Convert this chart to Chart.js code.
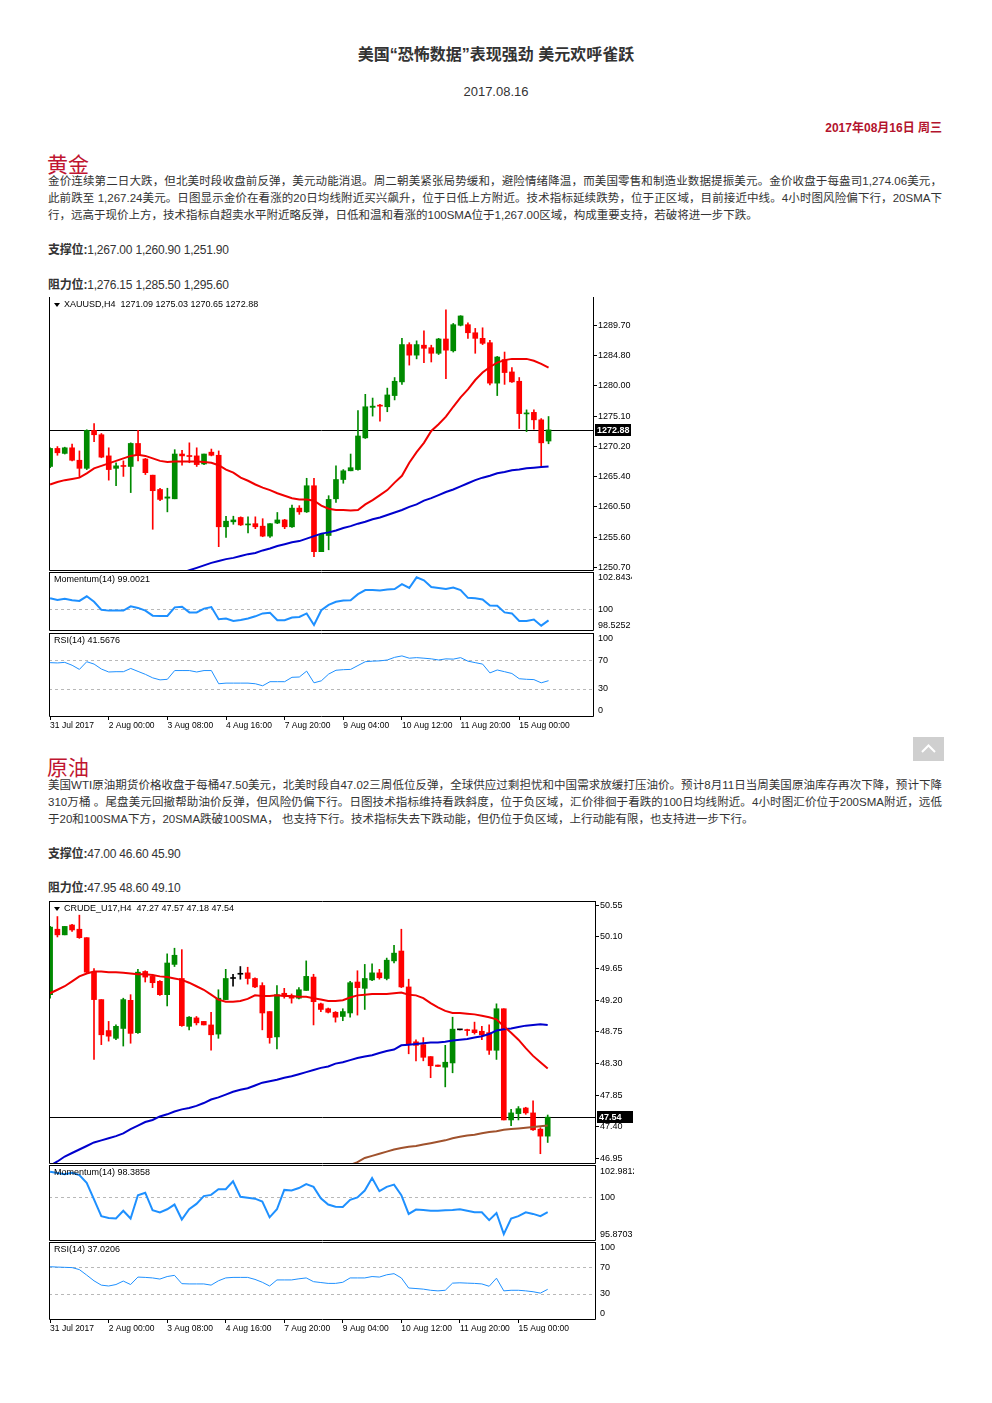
<!DOCTYPE html>
<html lang="zh-CN">
<head>
<meta charset="utf-8">
<title>美国“恐怖数据”表现强劲 美元欢呼雀跃</title>
<script src="https://cdn.jsdelivr.net/npm/chart.js@4.4.1/dist/chart.umd.min.js"></script>
<style>
  html, body { margin: 0; padding: 0; background: #fff; }
  body { width: 992px; height: 1403px; position: relative; overflow: hidden;
         font-family: "Liberation Sans", "Noto Sans CJK SC", sans-serif; color: #222; }
  .abs { position: absolute; }
  #title { left: 0; width: 992px; top: 45px; text-align: center; font-size: 16px; font-weight: bold; line-height: 20px; color: #333; }
  #date { left: 0; width: 992px; top: 83px; text-align: center; font-size: 13px; line-height: 18px; color: #333; }
  #today { right: 50px; top: 120px; font-size: 12px; font-weight: bold; line-height: 16px; color: #b3132d; }
  .head { left: 47px; font-size: 21px; line-height: 24px; color: #c01530; }
  .para { left: 48px; width: 894px; font-size: 11.5px; line-height: 17px; color: #333; }
  .para div { text-align: justify; text-align-last: justify; }
  .para div.last { text-align-last: left; }
  .level { left: 48px; font-size: 12px; line-height: 18px; letter-spacing: -0.2px; color: #333; }
  canvas { position: absolute; left: 49px; }
  #toTop { left: 913px; top: 737px; width: 31px; height: 24px; background: #cfcfcf; }
</style>
</head>
<body>
<div id="title" class="abs">美国“恐怖数据”表现强劲 美元欢呼雀跃</div>
<div id="date" class="abs">2017.08.16</div>
<div id="today" class="abs">2017年08月16日 周三</div>

<div class="abs head" style="top:153px">黄金</div>
<div class="abs para" style="top:173px">
  <div>金价连续第二日大跌，但北美时段收盘前反弹，美元动能消退。周二朝美紧张局势缓和，避险情绪降温，而美国零售和制造业数据提振美元。金价收盘于每盎司1,274.06美元，</div>
  <div>此前跌至 1,267.24美元。日图显示金价在看涨的20日均线附近买兴飙升，位于日低上方附近。技术指标延续跌势，位于正区域，目前接近中线。4小时图风险偏下行，20SMA下</div>
  <div class="last">行，远高于现价上方，技术指标自超卖水平附近略反弹，日低和温和看涨的100SMA位于1,267.00区域，构成重要支持，若破将进一步下跌。</div>
</div>
<div class="abs level" style="top:241px"><b>支撑位:</b>1,267.00 1,260.90 1,251.90</div>
<div class="abs level" style="top:276px"><b>阻力位:</b>1,276.15 1,285.50 1,295.60</div>

<canvas id="goldMain" width="583" height="274" style="top:297px"></canvas>
<canvas id="goldMom" width="583" height="59" style="top:572px"></canvas>
<canvas id="goldRsi" width="583" height="102" style="top:633px"></canvas>

<div id="toTop" class="abs"><svg width="31" height="24"><polyline points="9,15 15.5,8.5 22,15" fill="none" stroke="#fff" stroke-width="2"/></svg></div>

<div class="abs head" style="top:756px">原油</div>
<div class="abs para" style="top:777px">
  <div>美国WTI原油期货价格收盘于每桶47.50美元，北美时段自47.02三周低位反弹，全球供应过剩担忧和中国需求放缓打压油价。预计8月11日当周美国原油库存再次下降，预计下降</div>
  <div>310万桶 。尾盘美元回撤帮助油价反弹，但风险仍偏下行。日图技术指标维持看跌斜度，位于负区域，汇价徘徊于看跌的100日均线附近。4小时图汇价位于200SMA附近，远低</div>
  <div class="last">于20和100SMA下方，20SMA跌破100SMA， 也支持下行。技术指标失去下跌动能，但仍位于负区域，上行动能有限，也支持进一步下行。</div>
</div>
<div class="abs level" style="top:845px"><b>支撑位:</b>47.00 46.60 45.90</div>
<div class="abs level" style="top:879px"><b>阻力位:</b>47.95 48.60 49.10</div>

<canvas id="crudeMain" width="585" height="263" style="top:901px"></canvas>
<canvas id="crudeMom" width="585" height="76" style="top:1165px"></canvas>
<canvas id="crudeRsi" width="585" height="96" style="top:1242px"></canvas>

<script>
// time axis, one tick every 8 H4 bars
const timeTickBars = [0, 8, 16, 24, 32, 40, 48, 56, 64];
const timeTickLabels = ['31 Jul 2017', '2 Aug 00:00', '3 Aug 08:00', '4 Aug 16:00', '7 Aug 20:00',
  '9 Aug 04:00', '10 Aug 12:00', '11 Aug 20:00', '15 Aug 00:00'];

// XAUUSD H4
const goldOpen = [
  1267.0, 1269.9, 1269.1, 1270.0, 1268.0, 1266.7, 1272.8, 1272.1, 1268.7, 1266.7,
  1267.1, 1267.0, 1270.7, 1268.2, 1265.6, 1263.3, 1261.9, 1261.8, 1269.0, 1268.7,
  1268.7, 1267.4, 1269.3, 1268.8, 1257.3, 1258.1, 1258.8, 1257.6, 1257.8, 1257.4,
  1255.8, 1257.9, 1258.4, 1257.3, 1260.3, 1259.7, 1263.9, 1253.3, 1255.9, 1261.8,
  1264.9, 1266.3, 1266.5, 1271.6, 1276.5, 1276.85, 1276.6, 1278.4, 1280.6, 1286.6,
  1284.9, 1286.5, 1286.1, 1285.2, 1287.5, 1285.6, 1289.7, 1289.8, 1288.5, 1287.6,
  1286.9, 1280.4, 1284.2, 1282.2, 1280.7, 1275.45, 1275.7, 1274.5, 1271.09];
const goldHigh = [
  1270.0, 1270.2, 1270.1, 1270.6, 1269.5, 1272.9, 1273.9, 1272.3, 1270.0, 1267.6,
  1267.9, 1270.8, 1272.8, 1268.3, 1265.6, 1263.5, 1263.5, 1269.7, 1269.6, 1270.8,
  1270.0, 1269.0, 1269.8, 1269.5, 1259.0, 1259.0, 1258.9, 1258.9, 1258.9, 1258.6,
  1257.8, 1259.6, 1258.5, 1260.8, 1260.7, 1265.1, 1265.1, 1256.1, 1262.3, 1267.1,
  1266.5, 1269.0, 1276.0, 1278.6, 1278.0, 1277.0, 1279.6, 1281.3, 1287.6, 1286.9,
  1287.2, 1288.8, 1286.5, 1287.6, 1292.2, 1290.0, 1291.25, 1290.1, 1289.2, 1289.3,
  1287.3, 1284.7, 1285.4, 1282.9, 1281.3, 1276.1, 1276.1, 1274.7, 1275.03];
const goldLow = [
  1266.8, 1268.8, 1269.0, 1267.9, 1265.2, 1266.5, 1271.0, 1268.4, 1264.8, 1263.9,
  1265.4, 1262.8, 1267.9, 1265.7, 1256.9, 1261.5, 1259.7, 1261.8, 1267.2, 1267.6,
  1267.0, 1267.3, 1268.7, 1254.1, 1255.6, 1257.7, 1257.5, 1256.3, 1257.0, 1255.7,
  1255.6, 1257.8, 1257.0, 1257.2, 1259.3, 1259.6, 1252.5, 1253.3, 1253.6, 1261.2,
  1264.3, 1266.3, 1266.4, 1271.5, 1275.1, 1274.3, 1275.8, 1277.7, 1280.2, 1283.3,
  1284.3, 1283.7, 1283.8, 1285.0, 1281.1, 1285.4, 1289.6, 1287.6, 1285.2, 1286.6,
  1280.1, 1278.4, 1280.2, 1280.5, 1273.1, 1272.6, 1273.0, 1267.1, 1270.65];
const goldClose = [
  1269.9, 1269.2, 1270.0, 1268.0, 1266.7, 1272.8, 1272.1, 1268.5, 1266.5, 1267.1,
  1267.0, 1270.7, 1268.8, 1266.0, 1263.1, 1261.7, 1262.1, 1269.0, 1268.7, 1268.6,
  1267.3, 1269.0, 1268.8, 1257.3, 1258.2, 1258.4, 1257.6, 1257.7, 1257.3, 1255.8,
  1257.8, 1258.4, 1257.3, 1260.3, 1259.7, 1263.9, 1253.3, 1256.1, 1261.7, 1264.9,
  1266.3, 1266.8, 1271.9, 1276.6, 1276.7, 1276.7, 1278.5, 1280.7, 1286.6, 1284.9,
  1286.6, 1286.0, 1285.2, 1287.5, 1285.7, 1289.8, 1291.2, 1288.5, 1287.6, 1286.8,
  1280.4, 1284.6, 1282.1, 1280.6, 1275.5, 1275.55, 1274.5, 1270.8, 1272.88];
const goldSma20 = [
  1264.1, 1264.5, 1264.8, 1265.0, 1265.2, 1265.9, 1266.7, 1267.1, 1267.5, 1267.9,
  1268.3, 1268.7, 1268.9, 1268.7, 1268.3, 1267.9, 1267.7, 1267.8, 1267.8, 1267.8,
  1267.8, 1267.7, 1267.6, 1267.2, 1266.5, 1266.0, 1265.2, 1264.7, 1264.1, 1263.6,
  1263.2, 1262.7, 1262.3, 1261.9, 1261.7, 1261.7, 1261.5, 1260.7, 1260.2, 1260.0,
  1260.0, 1259.9, 1260.0, 1260.9, 1261.6, 1262.4, 1263.2, 1264.4, 1265.5, 1267.6,
  1269.3, 1270.8, 1272.7, 1273.8, 1275.0, 1276.6, 1278.1, 1279.4, 1280.9, 1282.1,
  1283.0, 1283.7, 1284.1, 1284.3, 1284.3, 1284.3, 1284.0, 1283.5, 1282.9];
const goldSma100 = [
  null, null, null, null, null, null, null, null, null, null,
  null, null, null, null, null, null, null, 1249.5, 1249.9, 1250.3,
  1250.7, 1251.1, 1251.5, 1251.8, 1252.1, 1252.3, 1252.6, 1252.9, 1253.1, 1253.5,
  1253.8, 1254.2, 1254.5, 1254.8, 1255.0, 1255.4, 1255.8, 1256.2, 1256.4, 1256.7,
  1257.1, 1257.4, 1257.8, 1258.1, 1258.5, 1258.8, 1259.2, 1259.6, 1260.0, 1260.5,
  1260.9, 1261.5, 1261.9, 1262.4, 1262.9, 1263.3, 1263.8, 1264.3, 1264.8, 1265.2,
  1265.5, 1265.9, 1266.1, 1266.4, 1266.5, 1266.7, 1266.8, 1266.9, 1267.0];
const goldMomentum = [
  100.98, 100.82, 100.93, 100.79, 100.74, 101.15, 100.66, 99.94, 99.87, 99.87,
  99.87, 100.25, 100.11, 99.87, 99.42, 99.39, 99.39, 100.16, 100.22, 99.71,
  99.71, 100.05, 100.19, 99.10, 99.17, 98.94, 99.04, 99.17, 99.36, 99.62,
  99.68, 99.01, 99.01, 99.26, 99.30, 99.62, 98.59, 99.90, 100.38, 100.66,
  100.77, 100.79, 101.34, 101.70, 101.70, 101.67, 101.75, 101.80, 102.24, 101.89,
  102.8434, 102.57, 101.97, 101.89, 101.80, 101.94, 101.70, 101.01, 100.98, 100.87,
  100.33, 100.30, 99.71, 99.62, 98.94, 98.94, 99.07, 98.5252, 99.0021];
const goldRsi = [
  66.7, 66.3, 67.1, 63.1, 57.3, 68.0, 64.7, 57.8, 53.7, 54.1,
  54.1, 58.6, 54.5, 50.4, 45.5, 42.7, 43.5, 55.7, 55.7, 55.7,
  53.7, 55.7, 55.7, 37.3, 38.2, 38.2, 38.2, 38.2, 37.3, 34.5,
  40.2, 40.2, 40.2, 46.3, 46.7, 54.9, 38.6, 41.4, 50.8, 56.1,
  56.9, 57.3, 62.7, 68.0, 68.8, 69.2, 70.4, 74.1, 76.1, 72.9,
  73.7, 72.9, 72.0, 70.4, 72.0, 71.6, 73.7, 68.8, 66.7, 64.7,
  52.4, 56.5, 54.1, 51.6, 44.3, 43.5, 43.1, 38.6, 41.5676];
const goldPriceTicks = [1289.70, 1284.80, 1280.00, 1275.10, 1270.20, 1265.40, 1260.50, 1255.60, 1250.70];

// CRUDE_U17 H4
const crudeOpen = [
  49.28, 50.21, 50.13, 50.27, 50.21, 50.09, 49.60, 49.21, 48.77, 48.66,
  48.80, 49.20, 48.74, 49.61, 49.54, 49.47, 49.28, 49.71, 49.51, 48.83,
  48.95, 48.90, 48.85, 48.72, 49.21, 49.51, 49.57, 49.59, 49.51, 49.41,
  49.04, 48.68, 49.30, 49.26, 49.23, 49.34, 49.53, 49.15, 49.08, 49.03,
  48.97, 49.02, 49.46, 49.37, 49.49, 49.59, 49.51, 49.76, 49.90, 49.39,
  48.61, 48.57, 48.40, 48.28, 48.25, 48.31, 48.78, 48.78, 48.78, 48.76,
  48.74, 48.49, 49.08, 47.50, 47.59, 47.67, 47.60, 47.37, 47.27];
const crudeHigh = [
  50.25, 50.39, 50.25, 50.28, 50.41, 50.09, 49.65, 49.21, 48.90, 48.85,
  49.23, 49.28, 49.64, 49.62, 49.57, 49.48, 49.86, 49.94, 49.92, 48.97,
  48.97, 48.90, 49.03, 49.35, 49.64, 49.57, 49.68, 49.67, 49.52, 49.45,
  49.04, 49.41, 49.37, 49.29, 49.38, 49.76, 49.57, 49.16, 49.09, 49.04,
  49.08, 49.47, 49.62, 49.71, 49.72, 49.64, 49.80, 49.98, 50.21, 49.50,
  48.64, 48.67, 48.40, 48.28, 48.56, 48.96, 48.78, 48.79, 48.89, 48.83,
  48.85, 49.15, 49.08, 47.65, 47.69, 47.68, 47.77, 47.39, 47.57];
const crudeLow = [
  49.23, 50.10, 50.13, 50.18, 50.08, 49.59, 48.36, 48.57, 48.62, 48.64,
  48.55, 48.59, 48.73, 49.46, 49.38, 49.27, 49.12, 49.68, 48.83, 48.78,
  48.85, 48.85, 48.49, 48.66, 49.21, 49.40, 49.50, 49.43, 49.38, 48.78,
  48.59, 48.51, 49.23, 49.16, 49.22, 49.34, 48.85, 49.04, 49.02, 48.89,
  48.91, 48.96, 48.99, 49.07, 49.48, 49.50, 49.49, 49.73, 49.38, 48.44,
  48.34, 48.34, 48.10, 48.26, 47.97, 48.17, 48.78, 48.70, 48.72, 48.64,
  48.43, 48.36, 47.50, 47.42, 47.50, 47.58, 47.35, 47.02, 47.18];
const crudeClose = [
  50.24, 50.13, 50.25, 50.20, 50.09, 49.60, 49.21, 48.71, 48.69, 48.83,
  49.21, 48.73, 49.60, 49.53, 49.45, 49.28, 49.73, 49.84, 48.84, 48.96,
  48.88, 48.85, 48.71, 49.23, 49.51, 49.51, 49.57, 49.51, 49.39, 49.02,
  48.67, 49.28, 49.26, 49.23, 49.35, 49.54, 49.18, 49.07, 49.03, 48.96,
  49.04, 49.45, 49.38, 49.51, 49.59, 49.52, 49.77, 49.87, 49.39, 48.58,
  48.56, 48.39, 48.27, 48.26, 48.32, 48.79, 48.78, 48.77, 48.74, 48.71,
  48.49, 49.08, 47.50, 47.60, 47.66, 47.60, 47.36, 47.27, 47.54];
const crudeSma20 = [
  49.30, 49.35, 49.40, 49.47, 49.54, 49.58, 49.61, 49.61, 49.60, 49.60,
  49.59, 49.58, 49.57, 49.57, 49.56, 49.54, 49.53, 49.51, 49.49, 49.45,
  49.40, 49.35, 49.28, 49.21, 49.18, 49.18, 49.19, 49.22, 49.27, 49.26,
  49.26, 49.27, 49.26, 49.26, 49.25, 49.25, 49.23, 49.21, 49.19, 49.19,
  49.20, 49.24, 49.27, 49.28, 49.29, 49.29, 49.29, 49.30, 49.31, 49.28,
  49.27, 49.23, 49.16, 49.10, 49.05, 49.02, 49.02, 49.01, 49.00, 48.98,
  48.96, 48.93, 48.83, 48.74, 48.64, 48.52, 48.41, 48.32, 48.23];
const crudeSma100 = [
  46.85, 46.91, 46.98, 47.03, 47.08, 47.13, 47.18, 47.21, 47.24, 47.27,
  47.31, 47.37, 47.42, 47.47, 47.50, 47.55, 47.58, 47.62, 47.65, 47.67,
  47.70, 47.74, 47.79, 47.82, 47.86, 47.90, 47.93, 47.95, 47.99, 48.03,
  48.05, 48.07, 48.10, 48.12, 48.15, 48.18, 48.21, 48.24, 48.26, 48.30,
  48.32, 48.35, 48.38, 48.40, 48.42, 48.45, 48.48, 48.50, 48.56, 48.57,
  48.58, 48.59, 48.60, 48.60, 48.61, 48.63, 48.64, 48.65, 48.67, 48.69,
  48.72, 48.77, 48.79, 48.80, 48.82, 48.84, 48.85, 48.86, 48.85];
const crudeSma200 = [
  null, null, null, null, null, null, null, null, null, null,
  null, null, null, null, null, null, null, null, null, null,
  null, null, null, null, null, null, null, null, null, null,
  null, null, null, null, null, null, null, null, null, null,
  46.80, 46.86, 46.90, 46.96, 46.99, 47.02, 47.05, 47.08, 47.10, 47.12,
  47.13, 47.15, 47.17, 47.19, 47.21, 47.24, 47.26, 47.28, 47.29, 47.31,
  47.33, 47.34, 47.36, 47.37, 47.38, 47.39, 47.40, 47.41, 47.42];
const crudeMomentum = [
  102.9812, 102.84, 102.70, 102.87, 102.62, 101.74, 99.85, 97.93, 97.72, 97.65,
  98.54, 97.65, 100.31, 100.60, 98.61, 98.36, 98.71, 99.25, 97.54, 98.71,
  99.32, 100.21, 100.35, 100.99, 100.99, 101.91, 100.14, 100.03, 99.92, 99.60,
  97.79, 98.71, 100.92, 100.85, 101.13, 101.59, 101.27, 99.96, 99.25, 99.00,
  98.96, 99.78, 100.06, 100.85, 102.27, 100.78, 101.27, 101.52, 100.31, 98.18,
  98.68, 98.64, 98.54, 98.54, 98.61, 98.64, 98.71, 98.54, 98.36, 98.36,
  97.47, 98.29, 95.8703, 97.65, 97.93, 98.36, 98.18, 97.93, 98.3858];
const crudeRsi = [
  70.9, 70.4, 70.0, 69.6, 66.6, 58.4, 49.8, 43.3, 42.0, 44.2,
  49.4, 44.2, 55.4, 54.9, 54.1, 52.4, 56.2, 58.0, 45.5, 45.1,
  45.1, 45.1, 43.3, 49.8, 54.1, 54.9, 54.9, 54.9, 51.9, 47.6,
  42.0, 51.1, 51.1, 51.1, 52.8, 54.1, 48.5, 47.2, 45.9, 45.9,
  47.6, 54.1, 54.1, 54.1, 56.2, 55.4, 58.8, 60.5, 54.1, 39.0,
  38.2, 37.3, 35.6, 34.7, 35.6, 46.3, 46.8, 46.3, 45.9, 45.1,
  41.6, 53.7, 34.7, 35.6, 35.6, 34.7, 33.4, 31.3, 37.0206];
const crudePriceTicks = [50.55, 50.10, 49.65, 49.20, 48.75, 48.30, 47.85, 47.40, 46.95];

const rsiTicks = [100, 70, 30, 0];

const UP = '#008a00', DOWN = '#ff0000', FLAT = '#000000';
const INDICATOR = '#1e90ff';
const FONT = '"Liberation Sans", sans-serif';

const xy = values => values.map((v, i) => ({ x: i, y: v }));

// frame, caption and bid marker in MT4 style
const panelDecor = {
  id: 'panelDecor',
  beforeDatasetsDraw(chart, args, opts) {
    if (opts.bid == null) return;
    const { ctx, chartArea: a } = chart;
    const y = Math.round(chart.scales.y.getPixelForValue(opts.bid)) + 0.5;
    ctx.save();
    ctx.strokeStyle = '#000';
    ctx.lineWidth = 1;
    ctx.beginPath();
    ctx.moveTo(a.left, y);
    ctx.lineTo(a.right, y);
    ctx.stroke();
    ctx.restore();
  },
  afterDraw(chart, args, opts) {
    const { ctx, chartArea: a } = chart;
    const l = a.left + 0.5, r = a.right - 0.5, t = a.top + 0.5, b = a.bottom - 0.5;
    ctx.save();
    ctx.strokeStyle = '#000';
    ctx.lineWidth = 1;
    ctx.beginPath();
    if (opts.top !== false) {
      ctx.moveTo(l, t);
      ctx.lineTo(r, t);
    }
    ctx.moveTo(r, a.top);
    ctx.lineTo(r, b);
    ctx.lineTo(l, b);
    ctx.lineTo(l, a.top);
    ctx.stroke();

    ctx.fillStyle = '#000';
    ctx.font = '9px ' + FONT;
    ctx.textBaseline = 'middle';
    let x = a.left + 5;
    const ty = a.top + 8;
    if (opts.marker) {
      ctx.beginPath();
      ctx.moveTo(x, ty - 2);
      ctx.lineTo(x + 6, ty - 2);
      ctx.lineTo(x + 3, ty + 2);
      ctx.closePath();
      ctx.fill();
      x += 10;
    }
    ctx.fillText(opts.caption, x, ty);

    if (opts.bid != null) {
      const y = Math.round(chart.scales.y.getPixelForValue(opts.bid));
      ctx.fillRect(a.right + 1, y - 6, 36, 12);
      ctx.fillStyle = '#fff';
      ctx.font = 'bold 9px ' + FONT;
      ctx.fillText(opts.bid.toFixed(2), a.right + 3, y + 0.5);
    }
    ctx.restore();
  }
};

function timeAxis(xMax, showLabels) {
  return {
    type: 'linear',
    min: -0.15,
    max: xMax,
    offset: false,
    display: showLabels,
    afterBuildTicks: s => { s.ticks = timeTickBars.map(v => ({ value: v })); },
    afterFit: s => { s.height = showLabels ? 18 : 0; },
    border: { display: false },
    grid: { drawOnChartArea: false, drawTicks: true, tickLength: 3, tickColor: '#000' },
    ticks: {
      autoSkip: false, maxRotation: 0, align: 'start', padding: 1, color: '#000',
      font: { family: FONT, size: 8.5 },
      callback: v => timeTickLabels[timeTickBars.indexOf(v)]
    }
  };
}

function valueAxis(min, max, tickValues, format, levels) {
  return {
    position: 'right',
    min, max,
    afterBuildTicks: s => { s.ticks = tickValues.map(v => ({ value: v })); },
    afterFit: s => { s.width = 38; s.paddingTop = 0; s.paddingBottom = 0; },
    border: { display: false, dash: [3, 3] },
    grid: levels ? {
      drawTicks: false,
      lineWidth: 1,
      color: c => (c.tick && levels.includes(c.tick.value)) ? '#b8b8b8' : 'rgba(0,0,0,0)'
    } : { drawOnChartArea: false, drawTicks: true, tickLength: 3, tickColor: '#000' },
    ticks: { autoSkip: false, padding: levels ? 4 : 1, color: '#000', font: { family: FONT, size: 9 }, callback: format }
  };
}

function makeChart(id, type, datasets, scales, decor) {
  return new Chart(document.getElementById(id), {
    type,
    data: { datasets },
    options: {
      responsive: false,
      animation: false,
      devicePixelRatio: 1,
      layout: { padding: 0, autoPadding: false },
      plugins: { legend: { display: false }, tooltip: { enabled: false }, panelDecor: decor },
      scales
    },
    plugins: [panelDecor]
  });
}

function pricePanel(id, s) {
  const colors = s.open.map((o, i) => s.close[i] > o ? UP : (s.close[i] < o ? DOWN : FLAT));
  const last = s.close.length - 1;
  const datasets = [
    { data: s.open.map((o, i) => ({ x: i, y: [s.low[i], s.high[i]] })), backgroundColor: colors,
      barThickness: 1, grouped: false, order: 3 },
    { data: s.open.map((o, i) => ({ x: i, y: [o, s.close[i]] })), backgroundColor: colors,
      barThickness: 5, minBarLength: 1, grouped: false, order: 2 }
  ];
  s.averages.forEach(([values, color]) => datasets.push({
    type: 'line', data: xy(values), borderColor: color, borderWidth: 2,
    pointRadius: 0, tension: 0, spanGaps: false, order: 1
  }));
  const caption = s.symbol + '  ' + [s.open[last], s.high[last], s.low[last], s.close[last]]
    .map(v => v.toFixed(2)).join(' ');
  makeChart(id, 'bar', datasets, {
    x: timeAxis(s.xMax, false),
    y: valueAxis(s.yMin, s.yMax, s.priceTicks, v => v.toFixed(2), null)
  }, { caption, marker: true, bid: s.close[last], top: s.frameTop });
}

function momentumPanel(id, values, xMax) {
  const hi = Math.max(...values), lo = Math.min(...values);
  const pad = (hi - lo) * 0.11;
  makeChart(id, 'line', [
    { data: xy(values), borderColor: INDICATOR, borderWidth: 2, pointRadius: 0, tension: 0 }
  ], {
    x: timeAxis(xMax, false),
    y: valueAxis(lo - pad, hi + pad, [hi, 100, lo], v => v === 100 ? '100' : v.toFixed(4), [100])
  }, { caption: 'Momentum(14) ' + values[values.length - 1].toFixed(4) });
}

function rsiPanel(id, values, xMax) {
  makeChart(id, 'line', [
    { data: xy(values), borderColor: INDICATOR, borderWidth: 1, pointRadius: 0, tension: 0 }
  ], {
    x: timeAxis(xMax, true),
    y: valueAxis(-9, 108, rsiTicks, v => String(v), [70, 30])
  }, { caption: 'RSI(14) ' + values[values.length - 1].toFixed(4) });
}

pricePanel('goldMain', {
  symbol: 'XAUUSD,H4', open: goldOpen, high: goldHigh, low: goldLow, close: goldClose,
  averages: [[goldSma20, '#f00000'], [goldSma100, '#0000cd']],
  priceTicks: goldPriceTicks, yMin: 1250.19, yMax: 1294.25, xMax: 74.2, frameTop: false
});
momentumPanel('goldMom', goldMomentum, 74.2);
rsiPanel('goldRsi', goldRsi, 74.2);

pricePanel('crudeMain', {
  symbol: 'CRUDE_U17,H4', open: crudeOpen, high: crudeHigh, low: crudeLow, close: crudeClose,
  averages: [[crudeSma20, '#f00000'], [crudeSma100, '#0000cd'], [crudeSma200, '#a0522d']],
  priceTicks: crudePriceTicks, yMin: 46.874, yMax: 50.611, xMax: 74.6, frameTop: true
});
momentumPanel('crudeMom', crudeMomentum, 74.6);
rsiPanel('crudeRsi', crudeRsi, 74.6);
</script>
</body>
</html>
